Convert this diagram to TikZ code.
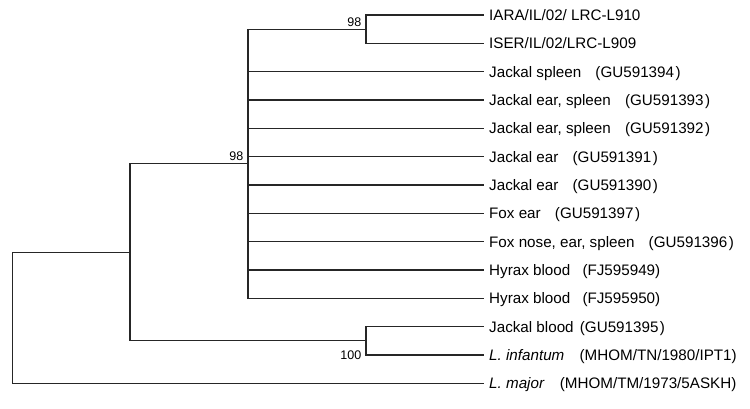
\documentclass[tikz,border=0pt]{standalone}
\usepackage{fontspec}
\setmainfont{Liberation Sans}
\usepackage{tikz}
\usetikzlibrary{positioning, calc}
\tikzset{
    branch/.style={line width=1.3pt, draw=black!85, line cap=rect},
    leaf/.style={anchor=west, inner xsep=6pt, inner ysep=0pt, text height=10.7pt, text depth=0pt, font=\fontsize{15.2}{18}\selectfont}
}
\newcommand{\acc}[1]{\hspace{10pt}(#1\hspace{1.5pt})}

\begin{document}
\begin{tikzpicture}[x=1pt, y=-1pt,
    boot/.style={anchor=east, inner sep=0pt, font=\fontsize{12.5}{15}\selectfont}]

    \useasboundingbox (0,0) rectangle (750,408);

    % Leaves
    \node (l1) [leaf] at (483,15) {IARA/IL/02/ LRC-L910};
    \node (l2) [leaf] at (483,43.3) {ISER/IL/02/LRC-L909};
    \node (l3) [leaf] at (483,71.7) {Jackal spleen \acc{GU591394}};
    \node (l4) [leaf] at (483,100) {Jackal ear, spleen \acc{GU591393}};
    \node (l5) [leaf] at (483,128.3) {Jackal ear, spleen \acc{GU591392}};
    \node (l6) [leaf] at (483,156.7) {Jackal ear \acc{GU591391}};
    \node (l7) [leaf] at (483,185) {Jackal ear \acc{GU591390}};
    \node (l8) [leaf] at (483,213.3) {Fox ear \acc{GU591397}};
    \node (l9) [leaf] at (483,241.7) {Fox nose, ear, spleen \acc{GU591396}};
    \node (l10) [leaf] at (483,270) {Hyrax blood\hspace{8pt} (FJ595949)};
    \node (l11) [leaf] at (483,298.3) {Hyrax blood\hspace{8pt} (FJ595950)};
    \node (l12) [leaf] at (483,326.7) {Jackal blood\hspace{2pt} (GU591395\hspace{1.5pt})};
    \node (l13) [leaf] at (483,355) {\textit{L. infantum}\hspace{11pt} (MHOM/TN/1980/IPT1)};
    \node (l14) [leaf] at (483,383.3) {\textit{L. major}\hspace{11pt} (MHOM/TM/1973/5ASKH)};

    % Inner nodes
    \coordinate (d) at (366,29.2);
    \coordinate (b) at (248,163.75);
    \coordinate (c) at (366,340.8);
    \coordinate (a) at (130,252.3);
    \coordinate (r) at (12.3,318);

    % Branches
    \draw [branch] (d) |- (l1);
    \draw [branch] (d) |- (l2);

    \draw [branch] (b) |- (d);
    \draw [branch] (b) |- (l3);
    \draw [branch] (b) |- (l4);
    \draw [branch] (b) |- (l5);
    \draw [branch] (b) |- (l6);
    \draw [branch] (b) |- (l7);
    \draw [branch] (b) |- (l8);
    \draw [branch] (b) |- (l9);
    \draw [branch] (b) |- (l10);
    \draw [branch] (b) |- (l11);

    \draw [branch] (c) |- (l12);
    \draw [branch] (c) |- (l13);

    \draw [branch] (a) |- (b);
    \draw [branch] (a) |- (c);

    \draw [branch] (r) |- (a);
    \draw [branch] (r) |- (l14);

    % Bootstrap values
    \node (bs1) [boot] at (361.5,21.7) {98};
    \node (bs2) [boot] at (243.5,155.7) {98};
    \node (bs3) [boot] at (361.5,355) {100};
\end{tikzpicture}
\end{document}
